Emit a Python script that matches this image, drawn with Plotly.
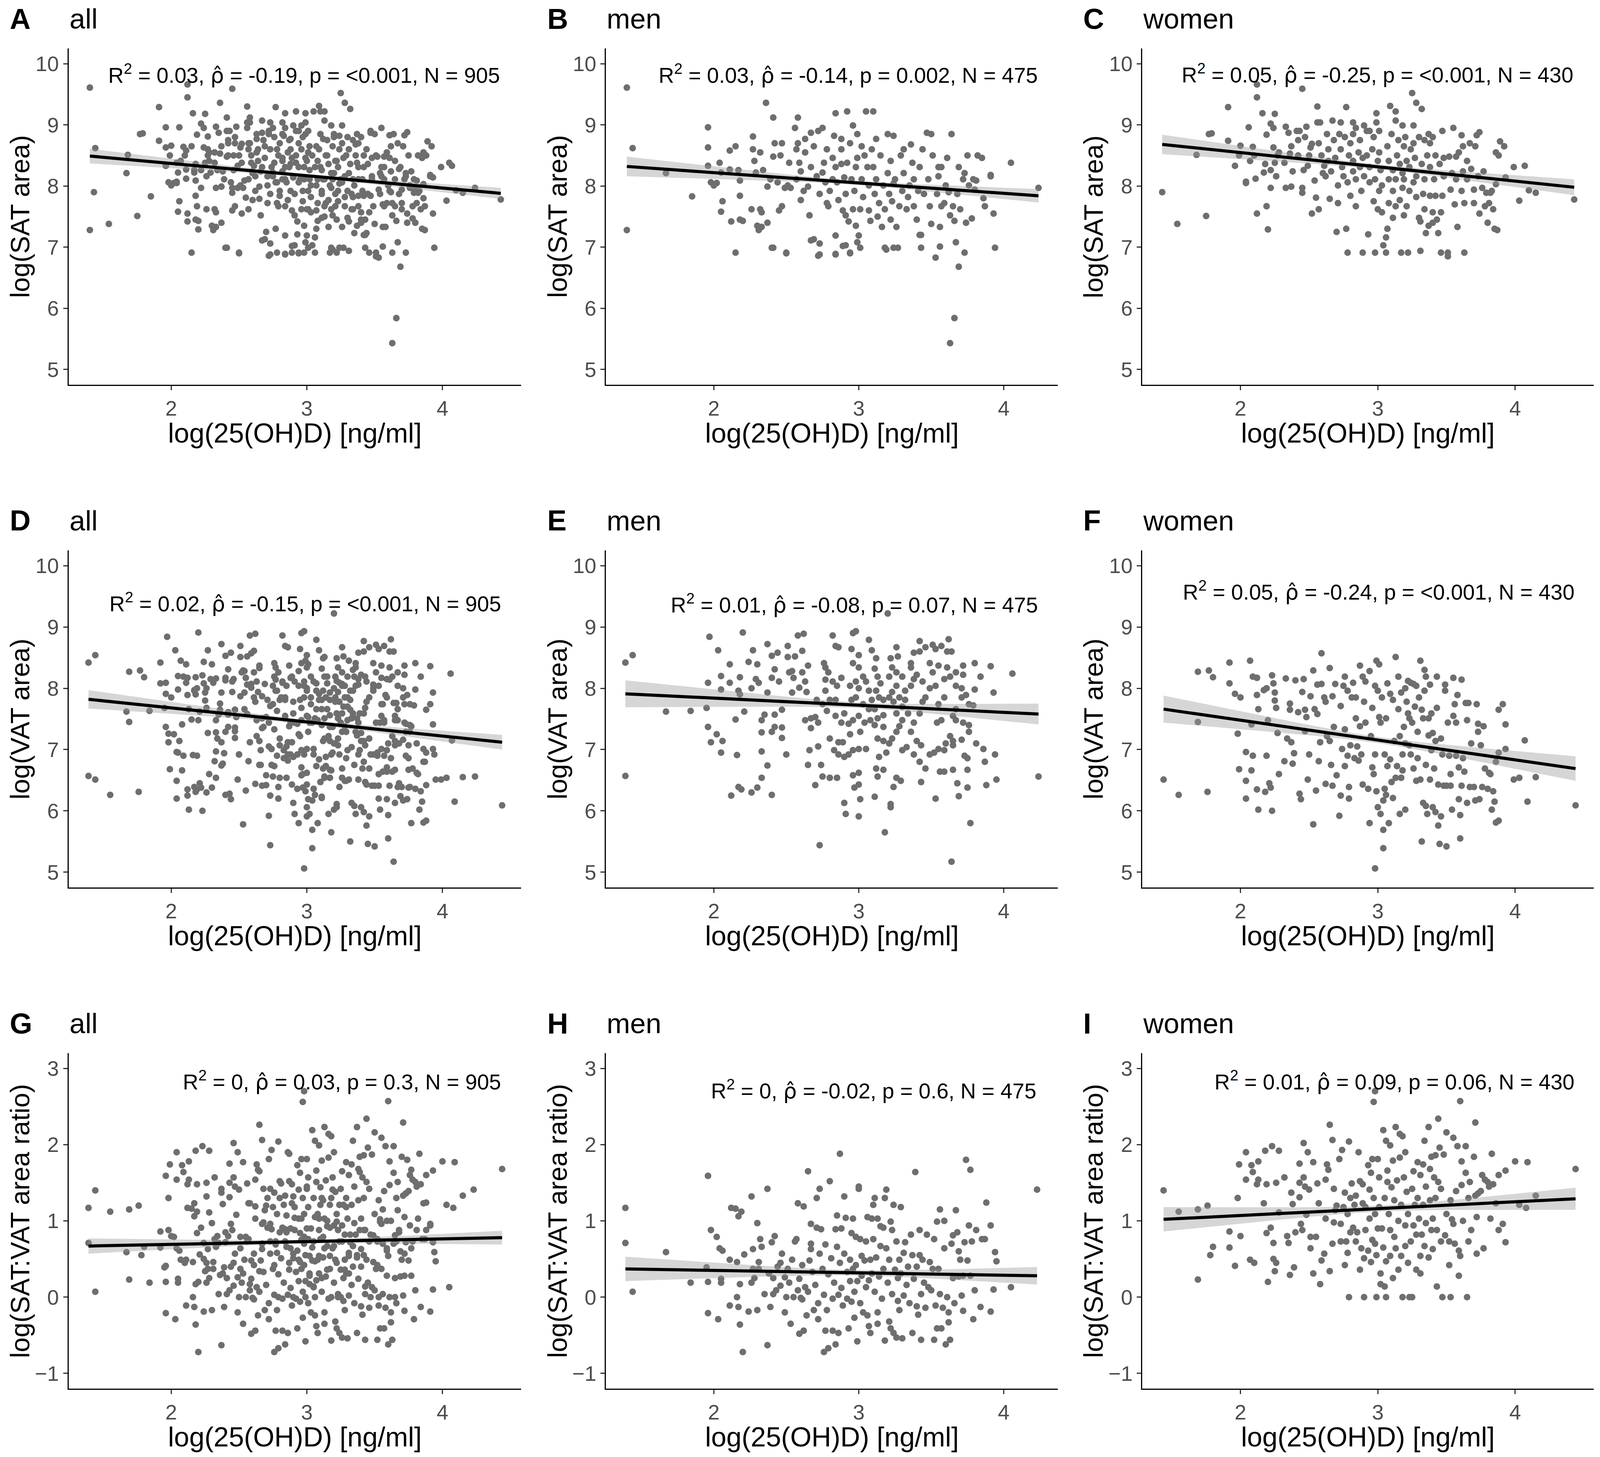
import numpy as np
import plotly.graph_objects as go

# The reference is 4317x3730; the page is photographed in a viewport that is
# 4096 px wide, with the default 8 px body margin round the figure.
REF_W, REF_H = 4317, 3730
VIEW_W, VIEW_H = 4096, 3730
PAD = 8
W, H = VIEW_W - 2 * PAD, VIEW_H - 2 * PAD
FONT = "Liberation Sans"
POINT_COLOR = "#6E6E6E"

# ---- data: (log 25(OH)D, value) ----
MEN_SAT = [
    (1.40, 9.61), (1.40, 7.28), (1.44, 8.62), (1.67, 8.21), (1.85, 7.83), (1.96, 8.96), (1.96, 8.63), (1.96, 8.33),
    (1.98, 8.06), (2.00, 8.01), (2.02, 8.05), (2.04, 8.38), (2.05, 8.22), (2.05, 7.58), (2.06, 7.75), (2.11, 8.58),
    (2.11, 8.27), (2.12, 7.42), (2.15, 8.65), (2.15, 6.91), (2.17, 8.26), (2.18, 8.09), (2.18, 7.84), (2.18, 7.45),
    (2.20, 7.43), (2.26, 7.62), (2.27, 8.81), (2.27, 8.60), (2.28, 8.41), (2.29, 8.22), (2.30, 7.35), (2.31, 7.28),
    (2.32, 8.55), (2.32, 7.62), (2.33, 7.57), (2.33, 7.33), (2.34, 8.26), (2.36, 9.36), (2.37, 7.99), (2.37, 7.40),
    (2.39, 8.11), (2.40, 6.99), (2.41, 9.12), (2.41, 8.48), (2.42, 8.70), (2.44, 8.06), (2.45, 7.60), (2.46, 8.50),
    (2.47, 8.70), (2.47, 7.67), (2.49, 7.97), (2.50, 6.91), (2.51, 8.01), (2.52, 8.38), (2.53, 7.97), (2.56, 8.95),
    (2.57, 8.60), (2.57, 8.11), (2.58, 8.70), (2.58, 9.12), (2.59, 8.38), (2.60, 7.77), (2.60, 8.24), (2.62, 7.92),
    (2.63, 8.77), (2.63, 8.55), (2.65, 7.99), (2.66, 7.52), (2.67, 8.31), (2.67, 8.87), (2.69, 8.65), (2.69, 7.13),
    (2.71, 8.16), (2.72, 8.90), (2.72, 6.86), (2.73, 7.06), (2.73, 7.87), (2.75, 8.95), (2.75, 8.22), (2.76, 8.38),
    (2.77, 8.06), (2.78, 8.60), (2.78, 7.72), (2.79, 7.67), (2.80, 7.92), (2.82, 8.11), (2.82, 8.46), (2.83, 8.82),
    (2.84, 9.19), (2.84, 8.31), (2.84, 7.19), (2.84, 6.89), (2.85, 8.06), (2.86, 7.77), (2.88, 8.60), (2.88, 8.77),
    (2.88, 8.36), (2.89, 7.60), (2.90, 8.14), (2.91, 7.52), (2.91, 7.87), (2.91, 7.03), (2.92, 9.22), (2.92, 8.38),
    (2.93, 7.42), (2.94, 6.91), (2.94, 8.70), (2.95, 8.11), (2.96, 7.62), (2.96, 8.99), (2.97, 7.92), (2.98, 8.31),
    (2.98, 7.35), (2.99, 7.08), (2.99, 8.46), (2.99, 8.85), (3.00, 7.19), (3.01, 7.62), (3.01, 6.99), (3.02, 8.11),
    (3.02, 8.65), (3.03, 7.82), (3.04, 8.50), (3.05, 9.22), (3.06, 8.31), (3.07, 8.01), (3.07, 7.60), (3.08, 7.43),
    (3.09, 8.60), (3.10, 9.22), (3.10, 8.31), (3.11, 7.87), (3.12, 8.77), (3.12, 8.11), (3.13, 7.50), (3.14, 7.72),
    (3.15, 8.50), (3.16, 7.33), (3.17, 8.01), (3.18, 7.62), (3.18, 6.99), (3.20, 8.85), (3.20, 8.21), (3.21, 7.87),
    (3.22, 8.41), (3.22, 7.45), (3.23, 7.75), (3.24, 8.82), (3.24, 8.04), (3.25, 8.11), (3.26, 7.33), (3.27, 6.99),
    (3.28, 7.67), (3.29, 8.50), (3.30, 7.92), (3.31, 8.60), (3.31, 8.21), (3.33, 7.62), (3.34, 7.82), (3.35, 8.01),
    (3.36, 8.68), (3.37, 8.38), (3.38, 7.67), (3.38, 8.11), (3.40, 7.45), (3.41, 7.92), (3.42, 8.31), (3.43, 7.20),
    (3.43, 6.99), (3.44, 8.60), (3.45, 7.87), (3.47, 8.87), (3.48, 8.11), (3.49, 7.67), (3.50, 8.85), (3.50, 7.38),
    (3.51, 8.50), (3.53, 6.83), (3.54, 7.87), (3.55, 8.31), (3.55, 8.16), (3.56, 7.33), (3.57, 8.31), (3.57, 7.67),
    (3.59, 7.72), (3.60, 8.01), (3.61, 8.46), (3.62, 7.90), (3.63, 7.52), (3.64, 8.85), (3.65, 7.67), (3.66, 7.43),
    (3.67, 7.08), (3.68, 7.87), (3.69, 6.68), (3.69, 8.31), (3.70, 7.62), (3.72, 8.11), (3.73, 8.21), (3.74, 7.40),
    (3.75, 8.50), (3.76, 8.01), (3.78, 7.47), (3.79, 8.11), (3.80, 7.94), (3.81, 8.09), (3.82, 8.50), (3.85, 8.46),
    (3.86, 7.80), (3.87, 7.67), (3.91, 8.16), (3.91, 8.18), (3.93, 7.55), (3.94, 6.99), (4.05, 8.38), (4.24, 7.97),
    (3.66, 5.84), (3.63, 5.43), (3.56, 7.01), (3.73, 6.91), (3.42, 7.20), (3.24, 6.99), (3.19, 6.96), (2.89, 7.02),
    (2.94, 6.90), (2.84, 6.88), (2.73, 6.88), (2.67, 7.11), (2.41, 6.99), (2.50, 6.90),
]

WOMEN_SAT = [
    (1.43, 7.90), (1.54, 7.38), (1.75, 7.51), (1.68, 8.51), (1.77, 8.85), (1.79, 8.86), (1.91, 8.74), (1.91, 9.29),
    (1.96, 8.33), (1.99, 8.50), (2.00, 8.66), (2.04, 8.07), (2.04, 8.05), (2.06, 8.96), (2.07, 8.41), (2.09, 8.64),
    (2.10, 8.50), (2.11, 8.12), (2.12, 9.66), (2.12, 9.45), (2.12, 7.55), (2.16, 9.19), (2.17, 8.22), (2.18, 8.36),
    (2.19, 8.84), (2.19, 7.67), (2.20, 7.29), (2.22, 9.02), (2.22, 7.97), (2.22, 8.26), (2.24, 8.95), (2.24, 8.63),
    (2.25, 9.18), (2.25, 8.38), (2.26, 8.16), (2.27, 8.50), (2.28, 8.55), (2.32, 8.38), (2.33, 8.97), (2.33, 7.97),
    (2.35, 8.87), (2.36, 8.53), (2.37, 7.99), (2.37, 8.65), (2.38, 8.24), (2.41, 8.90), (2.42, 8.75), (2.42, 8.50),
    (2.43, 8.90), (2.45, 7.97), (2.45, 7.89), (2.45, 9.59), (2.46, 8.26), (2.47, 8.80), (2.48, 8.97), (2.49, 8.33),
    (2.50, 8.50), (2.51, 8.63), (2.52, 7.55), (2.52, 8.69), (2.54, 8.09), (2.55, 7.81), (2.56, 9.04), (2.56, 9.30),
    (2.57, 7.62), (2.57, 8.70), (2.58, 9.04), (2.59, 8.50), (2.60, 8.21), (2.61, 8.33), (2.62, 8.16), (2.63, 8.85),
    (2.64, 8.60), (2.64, 8.41), (2.65, 7.79), (2.66, 8.24), (2.67, 9.07), (2.68, 8.75), (2.69, 8.46), (2.70, 7.25),
    (2.71, 8.01), (2.71, 7.72), (2.72, 8.85), (2.73, 9.04), (2.73, 8.60), (2.74, 8.31), (2.75, 8.16), (2.76, 8.80),
    (2.78, 6.91), (2.77, 7.30), (2.77, 9.29), (2.79, 8.50), (2.78, 8.06), (2.80, 8.70), (2.80, 7.84), (2.82, 9.04),
    (2.82, 8.41), (2.82, 8.24), (2.82, 8.85), (2.84, 7.67), (2.84, 8.11), (2.84, 8.95), (2.86, 8.55), (2.87, 8.75),
    (2.87, 8.31), (2.88, 7.92), (2.89, 6.91), (2.89, 8.46), (2.90, 8.99), (2.90, 8.16), (2.92, 8.90), (2.92, 8.50),
    (2.93, 7.21), (2.94, 8.06), (2.94, 8.90), (2.94, 8.31), (2.96, 8.60), (2.97, 8.80), (2.97, 7.75), (2.98, 6.91),
    (2.98, 8.11), (2.99, 9.04), (2.99, 9.19), (3.00, 8.41), (3.00, 7.62), (3.01, 8.55), (3.01, 7.92), (3.01, 8.90),
    (3.02, 8.26), (3.03, 7.57), (3.03, 8.01), (3.04, 7.03), (3.06, 6.91), (3.06, 7.16), (3.07, 7.30), (3.07, 8.65),
    (3.08, 7.72), (3.08, 8.41), (3.09, 9.31), (3.08, 8.11), (3.10, 8.85), (3.11, 7.48), (3.11, 7.92), (3.11, 8.26),
    (3.13, 9.22), (3.13, 7.67), (3.14, 8.50), (3.13, 9.07), (3.13, 8.11), (3.15, 8.75), (3.16, 7.77), (3.16, 8.36),
    (3.17, 6.91), (3.18, 7.97), (3.18, 8.99), (3.19, 8.65), (3.19, 7.52), (3.18, 8.21), (3.19, 8.11), (3.20, 8.80),
    (3.21, 8.41), (3.21, 7.67), (3.22, 6.91), (3.23, 7.92), (3.24, 8.60), (3.23, 8.31), (3.25, 9.52), (3.26, 8.06),
    (3.26, 8.99), (3.26, 8.70), (3.28, 7.82), (3.28, 9.36), (3.27, 8.46), (3.28, 8.16), (3.30, 7.48), (3.30, 8.80),
    (3.31, 6.94), (3.31, 7.42), (3.32, 9.26), (3.32, 8.36), (3.33, 7.87), (3.34, 7.62), (3.34, 8.75), (3.35, 7.23),
    (3.34, 8.11), (3.36, 8.50), (3.37, 8.85), (3.37, 7.35), (3.38, 7.84), (3.38, 8.31), (3.38, 8.70), (3.40, 7.40),
    (3.40, 7.57), (3.41, 8.11), (3.40, 8.80), (3.42, 8.50), (3.42, 7.84), (3.43, 7.45), (3.44, 7.23), (3.45, 8.36),
    (3.46, 6.91), (3.46, 7.57), (3.47, 7.84), (3.47, 8.90), (3.48, 8.46), (3.48, 8.16), (3.51, 6.85), (3.51, 6.91),
    (3.52, 8.48), (3.53, 7.94), (3.55, 8.95), (3.54, 8.21), (3.56, 7.70), (3.57, 8.48), (3.57, 8.11), (3.58, 7.33),
    (3.59, 8.55), (3.61, 7.92), (3.61, 8.83), (3.62, 8.65), (3.62, 8.24), (3.63, 6.91), (3.63, 7.72), (3.65, 8.41),
    (3.65, 8.11), (3.67, 8.70), (3.68, 8.28), (3.70, 7.72), (3.70, 7.94), (3.71, 8.65), (3.72, 8.83), (3.73, 8.16),
    (3.74, 7.55), (3.74, 8.88), (3.76, 7.97), (3.77, 8.24), (3.78, 7.67), (3.79, 7.89), (3.80, 7.40), (3.81, 7.72),
    (3.82, 7.89), (3.84, 7.62), (3.85, 7.30), (3.86, 8.55), (3.87, 7.28), (3.88, 8.50), (3.89, 8.73), (3.92, 8.65),
    (3.93, 8.14), (3.99, 8.31), (4.03, 7.76), (4.07, 8.33), (4.10, 7.93), (4.15, 7.89), (4.43, 7.78), (3.86, 8.03),
    (3.83, 7.92),
]

MEN_VAT = [
    (1.39, 8.42), (1.44, 8.54), (1.39, 6.57), (1.67, 7.62), (1.84, 7.63), (1.95, 7.68), (1.96, 8.09), (1.97, 8.84),
    (2.03, 8.62), (2.05, 8.20), (2.05, 7.98), (1.96, 7.37), (1.98, 7.12), (2.02, 7.25), (2.06, 7.14), (2.05, 6.95),
    (2.11, 8.39), (2.11, 8.09), (2.16, 6.91), (2.15, 7.49), (2.18, 8.18), (2.17, 7.96), (2.18, 7.90), (2.20, 8.91),
    (2.21, 7.62), (2.12, 6.25), (2.17, 6.39), (2.19, 6.35), (2.26, 6.30), (2.30, 6.38), (2.33, 6.54), (2.37, 6.74),
    (2.40, 6.26), (2.33, 6.97), (2.33, 7.28), (2.33, 7.48), (2.35, 7.57), (2.37, 7.93), (2.24, 8.43), (2.27, 8.62),
    (2.30, 8.39), (2.29, 8.15), (2.31, 8.09), (2.26, 8.00), (2.37, 8.72), (2.42, 8.31), (2.40, 8.53), (2.40, 8.17),
    (2.40, 7.29), (2.42, 7.37), (2.42, 7.57), (2.44, 8.58), (2.45, 8.11), (2.47, 7.65), (2.47, 7.36), (2.47, 7.19),
    (2.50, 6.92), (2.51, 8.69), (2.51, 8.51), (2.52, 8.26), (2.54, 8.28), (2.55, 8.17), (2.54, 7.93), (2.56, 8.52),
    (2.58, 8.86), (2.61, 8.61), (2.62, 8.89), (2.59, 8.01), (2.61, 8.26), (2.64, 7.94), (2.63, 8.11), (2.65, 8.37),
    (2.63, 7.48), (2.67, 7.51), (2.67, 7.35), (2.70, 7.53), (2.71, 7.81), (2.72, 7.44), (2.66, 6.99), (2.65, 6.75),
    (2.72, 7.05), (2.74, 6.75), (2.70, 6.42), (2.75, 6.56), (2.80, 6.54), (2.85, 6.54), (2.73, 5.44), (2.82, 8.86),
    (2.84, 8.69), (2.86, 8.67), (2.76, 8.41), (2.77, 8.34), (2.79, 8.26), (2.77, 8.14), (2.82, 8.11), (2.85, 8.04),
    (2.88, 8.17), (2.77, 7.96), (2.80, 7.81), (2.84, 7.81), (2.75, 7.74), (2.78, 7.63), (2.84, 7.55), (2.88, 7.44),
    (2.90, 7.59), (2.80, 7.18), (2.86, 7.12), (2.89, 7.12), (2.83, 6.99), (2.86, 6.92), (2.90, 6.88), (2.93, 6.92),
    (2.96, 6.99), (3.00, 7.01), (3.05, 7.01), (2.95, 8.64), (2.96, 8.90), (2.98, 8.93), (3.00, 8.54), (2.96, 8.41),
    (3.00, 8.34), (3.03, 8.19), (2.98, 8.11), (2.94, 8.04), (3.00, 8.00), (3.05, 8.11), (3.07, 7.96), (2.98, 7.85),
    (2.95, 7.81), (3.03, 7.74), (3.07, 7.66), (3.00, 7.55), (2.96, 7.48), (2.93, 7.42), (3.04, 7.44), (3.08, 7.48),
    (3.01, 7.29), (2.94, 7.25), (3.07, 8.79), (3.09, 8.62), (3.12, 8.49), (3.11, 8.32), (3.13, 8.19), (3.15, 8.08),
    (3.12, 7.96), (3.14, 7.85), (3.09, 7.81), (3.17, 7.81), (3.11, 7.66), (3.17, 7.56), (3.13, 7.51), (3.11, 7.40),
    (3.17, 7.37), (3.13, 7.18), (3.17, 7.14), (3.19, 6.95), (3.14, 6.88), (3.12, 6.69), (3.17, 6.67), (3.13, 6.56),
    (2.96, 6.58), (3.00, 6.62), (3.00, 6.43), (2.97, 6.38), (2.90, 6.13), (2.91, 5.95), (3.00, 5.91), (3.01, 6.19),
    (3.11, 6.23), (3.22, 6.11), (3.22, 6.06), (3.18, 5.65), (3.20, 9.22), (3.22, 8.49), (3.26, 8.67), (3.27, 8.52),
    (3.23, 8.34), (3.21, 8.19), (3.26, 8.26), (3.30, 8.19), (3.26, 8.04), (3.23, 7.94), (3.21, 7.85), (3.28, 7.85),
    (3.32, 7.81), (3.24, 7.78), (3.30, 7.70), (3.26, 7.59), (3.34, 7.59), (3.30, 7.48), (3.28, 7.38), (3.26, 7.29),
    (3.23, 7.18), (3.21, 7.10), (3.30, 6.99), (3.33, 7.04), (3.38, 6.92), (3.24, 6.39), (3.26, 6.54), (3.29, 6.49),
    (3.32, 7.96), (3.36, 8.04), (3.38, 8.15), (3.36, 8.34), (3.36, 8.41), (3.38, 8.58), (3.42, 8.77), (3.42, 8.60),
    (3.40, 8.22), (3.44, 8.11), (3.46, 8.67), (3.51, 8.71), (3.53, 8.64), (3.57, 8.69), (3.49, 8.41), (3.51, 8.26),
    (3.55, 8.37), (3.49, 8.00), (3.53, 8.04), (3.46, 7.85), (3.44, 7.78), (3.42, 7.59), (3.38, 7.44), (3.36, 7.29),
    (3.40, 7.14), (3.43, 7.07), (3.46, 6.69), (3.43, 6.47), (3.42, 6.80), (3.49, 6.92), (3.52, 6.95), (3.55, 7.01),
    (3.59, 6.99), (3.53, 6.20), (3.56, 6.64), (3.59, 6.64), (3.54, 7.44), (3.57, 7.48), (3.55, 7.74), (3.59, 7.85),
    (3.59, 8.15), (3.62, 8.80), (3.61, 8.60), (3.64, 8.60), (3.61, 8.34), (3.63, 8.19), (3.67, 8.26), (3.72, 8.22),
    (3.67, 8.04), (3.71, 8.00), (3.71, 7.85), (3.74, 7.89), (3.76, 7.74), (3.67, 7.66), (3.65, 7.55), (3.67, 7.48),
    (3.72, 7.44), (3.76, 7.40), (3.76, 7.29), (3.63, 7.22), (3.60, 7.10), (3.65, 7.14), (3.65, 7.07), (3.71, 7.16),
    (3.73, 6.90), (3.75, 6.86), (3.65, 6.67), (3.68, 6.45), (3.75, 6.38), (3.69, 6.24), (3.75, 6.67), (3.77, 5.80),
    (3.64, 5.17), (3.72, 8.37), (3.80, 8.41), (3.84, 8.19), (3.80, 7.98), (3.79, 7.72), (3.81, 7.10), (3.86, 7.01),
    (3.87, 6.80), (3.88, 6.42), (3.94, 6.92), (3.95, 6.51), (3.91, 8.36), (3.93, 7.93), (4.06, 8.24), (4.24, 6.56),
]

WOMEN_VAT = [
    (1.44, 6.51), (1.55, 6.26), (1.69, 8.27), (1.69, 7.45), (1.76, 6.31), (1.77, 8.29), (1.80, 8.18), (1.92, 8.42),
    (1.92, 8.08), (1.96, 7.91), (1.98, 7.26), (1.99, 6.68), (2.00, 7.85), (2.04, 6.96), (2.04, 6.49), (2.04, 6.20),
    (2.07, 8.45), (2.08, 7.41), (2.08, 6.66), (2.09, 6.90), (2.09, 8.19), (2.12, 8.17), (2.12, 7.89), (2.12, 6.35),
    (2.13, 6.02), (2.13, 7.66), (2.17, 7.97), (2.18, 6.31), (2.19, 6.90), (2.19, 8.00), (2.20, 7.48), (2.21, 6.45),
    (2.22, 6.38), (2.23, 8.21), (2.23, 6.00), (2.24, 8.08), (2.25, 7.93), (2.25, 7.80), (2.26, 7.68), (2.27, 7.27),
    (2.28, 6.60), (2.32, 6.81), (2.33, 8.16), (2.34, 7.18), (2.36, 7.75), (2.36, 7.65), (2.37, 7.12), (2.38, 6.77),
    (2.39, 6.94), (2.40, 8.13), (2.42, 7.61), (2.43, 6.28), (2.44, 6.19), (2.45, 7.94), (2.46, 8.15), (2.47, 7.65),
    (2.47, 7.30), (2.48, 7.53), (2.49, 6.51), (2.50, 6.92), (2.51, 7.87), (2.53, 8.29), (2.53, 5.78), (2.54, 7.66),
    (2.55, 6.33), (2.56, 7.58), (2.56, 8.06), (2.57, 6.81), (2.58, 7.12), (2.59, 8.57), (2.59, 8.07), (2.61, 7.85),
    (2.62, 7.78), (2.62, 6.44), (2.63, 7.22), (2.65, 8.33), (2.65, 7.14), (2.66, 6.75), (2.67, 7.87), (2.67, 6.41),
    (2.68, 7.37), (2.69, 8.07), (2.70, 6.58), (2.72, 5.92), (2.73, 6.25), (2.73, 7.71), (2.74, 7.01), (2.75, 8.04),
    (2.76, 6.73), (2.76, 8.19), (2.76, 7.33), (2.78, 7.96), (2.78, 6.90), (2.79, 6.39), (2.79, 6.20), (2.80, 7.07),
    (2.81, 7.85), (2.82, 8.09), (2.83, 6.86), (2.84, 7.51), (2.84, 7.85), (2.85, 7.05), (2.86, 6.82), (2.87, 7.38),
    (2.87, 8.37), (2.88, 6.92), (2.89, 8.19), (2.89, 6.43), (2.90, 7.78), (2.91, 8.11), (2.91, 7.44), (2.93, 6.36),
    (2.94, 8.28), (2.94, 5.80), (2.95, 7.22), (2.96, 6.71), (2.96, 7.68), (2.97, 6.60), (2.98, 8.04), (2.98, 6.92),
    (2.99, 8.45), (2.99, 6.32), (3.00, 6.06), (3.00, 7.96), (3.01, 7.53), (3.01, 8.39), (3.02, 7.44), (3.02, 5.95),
    (3.03, 7.85), (3.04, 6.17), (3.04, 5.69), (3.04, 5.39), (3.05, 6.92), (3.05, 6.36), (3.06, 7.51), (3.06, 6.26),
    (3.07, 8.08), (3.07, 6.73), (3.08, 5.80), (3.09, 7.91), (3.09, 6.84), (3.10, 6.47), (3.11, 7.81), (3.11, 6.21),
    (3.12, 7.14), (3.13, 8.51), (3.13, 6.54), (3.14, 6.73), (3.15, 7.66), (3.15, 8.19), (3.16, 5.95), (3.16, 7.22),
    (3.17, 7.93), (3.17, 6.54), (3.18, 6.92), (3.18, 6.66), (3.19, 7.37), (3.20, 8.00), (3.20, 6.02), (3.20, 7.10),
    (3.21, 7.78), (3.22, 8.12), (3.22, 7.59), (3.23, 7.07), (3.23, 7.51), (3.24, 8.09), (3.24, 6.92), (3.25, 7.44),
    (3.26, 8.07), (3.26, 6.69), (3.27, 7.70), (3.28, 6.49), (3.28, 8.04), (3.29, 7.29), (3.29, 6.86), (3.30, 7.85),
    (3.31, 8.45), (3.31, 6.51), (3.32, 7.65), (3.32, 5.50), (3.33, 6.13), (3.33, 7.51), (3.34, 7.96), (3.34, 8.30),
    (3.35, 6.75), (3.35, 6.08), (3.35, 8.19), (3.36, 5.95), (3.37, 7.23), (3.37, 7.51), (3.38, 6.51), (3.38, 8.06),
    (3.39, 6.99), (3.39, 7.59), (3.40, 6.06), (3.40, 7.27), (3.41, 6.69), (3.42, 7.14), (3.42, 5.98), (3.43, 8.19),
    (3.43, 7.68), (3.44, 6.43), (3.44, 5.76), (3.45, 5.46), (3.46, 7.18), (3.46, 5.91), (3.47, 6.92), (3.48, 6.41),
    (3.49, 7.96), (3.49, 8.06), (3.50, 5.42), (3.50, 6.41), (3.51, 7.44), (3.52, 6.90), (3.53, 6.60), (3.53, 6.41),
    (3.54, 6.02), (3.55, 8.17), (3.55, 7.55), (3.56, 7.74), (3.57, 6.90), (3.57, 7.44), (3.58, 7.89), (3.59, 6.71),
    (3.59, 6.19), (3.60, 5.55), (3.60, 5.93), (3.61, 8.14), (3.61, 6.41), (3.62, 6.86), (3.63, 6.64), (3.64, 7.76),
    (3.65, 6.13), (3.65, 7.48), (3.66, 7.76), (3.67, 6.39), (3.68, 7.10), (3.70, 6.39), (3.71, 6.17), (3.72, 7.74),
    (3.73, 7.42), (3.73, 7.29), (3.74, 6.19), (3.75, 7.07), (3.76, 6.39), (3.77, 7.38), (3.78, 6.69), (3.80, 6.36),
    (3.81, 6.62), (3.82, 6.60), (3.83, 6.02), (3.84, 6.32), (3.85, 6.15), (3.86, 5.81), (3.88, 5.84), (3.86, 6.80),
    (3.88, 6.95), (3.88, 7.65), (3.91, 7.74), (3.93, 7.01), (3.93, 7.41), (3.99, 6.51), (4.03, 6.54), (4.07, 7.15),
    (4.09, 6.15), (4.15, 6.55), (4.44, 6.09), (2.98, 5.06),
]

MEN_RATIO = [
    (1.39, 1.17), (1.39, 0.71), (1.44, 0.07), (1.67, 0.59), (1.84, 0.19), (1.95, 0.39), (1.96, 1.59), (1.96, 0.20),
    (1.96, -0.21), (1.98, 0.88), (2.02, 0.79), (2.03, -0.29), (2.04, 0.64), (2.06, 0.61), (2.05, 0.24), (2.05, 0.19),
    (2.11, 0.49), (2.11, -0.11), (2.12, 1.17), (2.15, 1.16), (2.16, 0.46), (2.16, 0.00), (2.17, -0.13), (2.17, 1.06),
    (2.18, 0.17), (2.18, -0.36), (2.19, 1.12), (2.20, -0.72), (2.21, 0.56), (2.24, -0.19), (2.26, 1.32), (2.26, 0.19),
    (2.27, 0.37), (2.27, 0.63), (2.28, 0.25), (2.30, 0.97), (2.30, -0.17), (2.31, 0.46), (2.31, 0.37), (2.32, 0.76),
    (2.33, 0.66), (2.35, 0.04), (2.37, 1.42), (2.37, -0.63), (2.38, 0.31), (2.39, -0.13), (2.40, 0.72), (2.41, 0.25),
    (2.41, 0.04), (2.42, 0.80), (2.43, 0.09), (2.44, 0.40), (2.46, 0.15), (2.46, 0.45), (2.47, 0.57), (2.49, 0.26),
    (2.49, -0.20), (2.50, 0.00), (2.51, 0.37), (2.52, 0.19), (2.53, -0.35), (2.54, 0.49), (2.55, 0.00), (2.56, 0.73),
    (2.57, 0.76), (2.58, 1.23), (2.58, 0.09), (2.59, 0.24), (2.59, -0.48), (2.60, -0.01), (2.61, 0.42), (2.61, -0.03),
    (2.62, -0.44), (2.62, 1.19), (2.63, 0.13), (2.64, -0.24), (2.65, 1.65), (2.65, 0.07), (2.66, 0.48), (2.67, 0.96),
    (2.67, 0.70), (2.67, 0.63), (2.68, 0.33), (2.69, -0.17), (2.70, 0.16), (2.71, 0.91), (2.71, 1.30), (2.72, -0.08),
    (2.72, -0.29), (2.73, 1.42), (2.73, 0.57), (2.74, 0.89), (2.75, 0.37), (2.76, 0.03), (2.76, -0.72), (2.77, 0.69),
    (2.77, -0.44), (2.78, -0.17), (2.79, -0.67), (2.79, 0.30), (2.80, 1.52), (2.81, 0.51), (2.82, -0.44), (2.82, -0.02),
    (2.83, 0.19), (2.84, 0.89), (2.84, -0.62), (2.85, 0.66), (2.85, 1.07), (2.86, 0.03), (2.86, -0.47), (2.87, 0.45),
    (2.87, 1.88), (2.88, 0.90), (2.88, 0.12), (2.89, -0.11), (2.90, 1.32), (2.90, 0.57), (2.91, 1.04), (2.92, 0.33),
    (2.92, -0.02), (2.93, -0.41), (2.94, 0.49), (2.94, 0.21), (2.95, -0.06), (2.95, 0.84), (2.96, 0.37), (2.96, 1.03),
    (2.97, -0.27), (2.97, 0.07), (2.98, 0.42), (2.98, 0.79), (2.99, 0.21), (2.99, -0.58), (3.00, 1.45), (3.00, 1.42),
    (3.01, -0.08), (3.01, 0.76), (3.02, 0.28), (3.02, 0.54), (3.03, -0.20), (3.04, 0.48), (3.05, 0.73), (3.05, 0.13),
    (3.06, 1.05), (3.06, -0.24), (3.07, 0.22), (3.07, -0.38), (3.08, 0.49), (3.08, -0.47), (3.09, 1.03), (3.09, 0.31),
    (3.10, 0.76), (3.10, 1.21), (3.11, 0.07), (3.11, 1.30), (3.12, 0.52), (3.13, -0.20), (3.13, 1.03), (3.13, -0.35),
    (3.14, 0.27), (3.15, 0.93), (3.15, 0.67), (3.16, -0.02), (3.17, 0.91), (3.17, 0.37), (3.18, -0.57), (3.18, 1.30),
    (3.19, 1.41), (3.19, 0.64), (3.20, 0.19), (3.21, -0.32), (3.21, 0.49), (3.22, -0.41), (3.22, 0.99), (3.23, 0.04),
    (3.23, 0.88), (3.24, -0.47), (3.24, 1.21), (3.25, 0.36), (3.26, -0.53), (3.26, 0.73), (3.27, -0.05), (3.27, 0.25),
    (3.28, 0.49), (3.28, -0.17), (3.29, 1.18), (3.29, 0.31), (3.30, -0.54), (3.31, 0.58), (3.31, 0.02), (3.32, 0.72),
    (3.33, 0.16), (3.34, 0.40), (3.35, -0.08), (3.36, 0.82), (3.37, -0.47), (3.37, 0.55), (3.38, 0.24), (3.39, 1.64),
    (3.40, -0.12), (3.40, 0.40), (3.41, -0.23), (3.42, 0.88), (3.42, 0.55), (3.43, -0.56), (3.43, 0.04), (3.44, 0.49),
    (3.45, 0.19), (3.46, -0.14), (3.47, 0.82), (3.48, 0.13), (3.49, 0.46), (3.50, 0.09), (3.51, 0.37), (3.52, -0.56),
    (3.52, 0.76), (3.53, -0.11), (3.54, 0.99), (3.54, -0.41), (3.55, 0.37), (3.56, 1.15), (3.56, 0.04), (3.57, -0.41),
    (3.58, -0.14), (3.59, 0.64), (3.59, 1.00), (3.60, -0.62), (3.61, 0.00), (3.62, -0.20), (3.62, -0.33), (3.63, -0.56),
    (3.64, 0.70), (3.65, 0.25), (3.65, 0.81), (3.66, -0.08), (3.67, 1.14), (3.68, 0.85), (3.69, 0.27), (3.69, 0.60),
    (3.70, 0.49), (3.71, 0.02), (3.72, 0.28), (3.72, -0.18), (3.73, 0.72), (3.74, 1.80), (3.75, 0.48), (3.76, 0.94),
    (3.77, 0.28), (3.77, 1.67), (3.78, 0.73), (3.79, -0.29), (3.80, 0.09), (3.81, 0.88), (3.84, -0.13), (3.85, 0.76),
    (3.87, 0.76), (3.88, 1.24), (3.91, 0.94), (3.91, -0.19), (3.93, 0.10), (3.94, 0.59), (3.95, 0.47), (4.05, 0.13),
    (4.23, 1.41),
]

WOMEN_RATIO = [
    (1.44, 1.40), (1.55, 1.12), (1.69, 1.15), (1.69, 0.23), (1.76, 1.20), (1.78, 0.55), (1.80, 0.66), (1.92, 0.86),
    (1.92, 0.65), (1.96, 0.41), (1.98, 1.30), (1.99, 1.74), (2.00, 0.80), (2.04, 1.90), (2.04, 1.54), (2.07, 0.49),
    (2.08, 1.73), (2.09, 1.64), (2.10, 0.45), (2.12, 1.48), (2.13, 1.78), (2.13, 1.54), (2.17, 1.23), (2.18, 1.92),
    (2.19, 1.48), (2.19, 0.84), (2.20, 0.20), (2.22, 0.91), (2.23, 1.98), (2.24, 0.50), (2.24, 0.71), (2.25, 0.34),
    (2.26, 1.50), (2.26, 0.45), (2.28, 1.11), (2.28, 1.92), (2.32, 1.57), (2.34, 0.80), (2.35, 0.71), (2.36, 0.29),
    (2.37, 1.37), (2.38, 1.22), (2.39, 0.39), (2.40, 0.85), (2.43, 1.31), (2.43, 1.50), (2.43, 1.75), (2.44, 0.96),
    (2.45, 0.88), (2.46, 2.02), (2.46, 1.57), (2.47, 1.45), (2.48, 1.08), (2.49, 1.90), (2.50, 1.41), (2.51, 0.79),
    (2.51, 0.64), (2.53, 1.77), (2.53, 0.31), (2.55, 0.79), (2.56, 1.49), (2.57, 1.23), (2.58, 0.17), (2.59, 0.48),
    (2.61, 0.57), (2.62, 1.03), (2.62, 1.54), (2.63, 1.74), (2.64, 1.67), (2.65, 0.34), (2.65, 2.26), (2.67, 2.06),
    (2.67, 0.70), (2.68, 1.42), (2.68, 0.98), (2.69, 1.14), (2.70, 1.20), (2.72, 1.81), (2.73, 0.73), (2.73, 0.96),
    (2.74, 1.93), (2.75, 1.18), (2.76, 1.37), (2.76, 0.42), (2.77, 0.73), (2.78, 0.58), (2.78, 1.09), (2.79, 0.00),
    (2.79, 2.04), (2.80, 1.30), (2.80, 0.85), (2.81, 1.49), (2.82, 0.91), (2.83, 1.21), (2.84, 0.73), (2.84, 1.33),
    (2.85, 0.85), (2.86, 1.90), (2.87, 1.52), (2.87, 0.36), (2.88, 0.64), (2.89, 1.23), (2.89, 1.48), (2.90, 0.00),
    (2.90, 0.51), (2.91, 0.88), (2.91, 1.18), (2.93, 0.61), (2.93, 1.73), (2.94, 1.41), (2.94, 1.03), (2.95, 0.46),
    (2.95, 1.63), (2.96, 0.75), (2.96, 1.81), (2.97, 2.56), (2.97, 1.30), (2.98, 1.09), (2.98, 2.70), (2.98, 0.70),
    (2.99, 0.00), (2.99, 0.55), (3.00, 1.81), (3.00, 0.90), (3.01, 1.57), (3.01, 1.18), (3.02, 0.17), (3.02, 0.31),
    (3.03, 0.90), (3.04, 0.65), (3.04, 2.19), (3.05, 1.30), (3.05, 0.14), (3.06, 2.05), (3.06, 0.00), (3.06, 0.47),
    (3.07, 1.51), (3.07, 1.66), (3.08, 1.09), (3.09, 0.88), (3.09, 0.54), (3.09, 1.99), (3.10, 1.44), (3.11, 0.25),
    (3.11, 1.79), (3.12, 0.79), (3.12, 1.27), (3.13, 2.23), (3.13, 0.64), (3.14, 1.53), (3.15, 1.00), (3.15, 0.36),
    (3.16, 1.83), (3.16, 2.14), (3.17, 1.21), (3.17, 0.54), (3.18, 2.11), (3.18, 0.00), (3.19, 1.57), (3.20, 0.94),
    (3.20, 1.90), (3.20, 0.67), (3.21, 1.38), (3.22, 0.45), (3.22, 1.09), (3.23, 0.00), (3.24, 0.73), (3.25, 0.00),
    (3.25, 1.42), (3.26, 0.94), (3.26, 1.65), (3.27, 1.21), (3.28, 0.36), (3.28, 0.82), (3.29, 1.30), (3.29, 1.77),
    (3.30, 1.03), (3.31, 0.31), (3.31, 0.54), (3.31, 1.60), (3.32, 0.82), (3.33, 1.74), (3.33, 1.21), (3.34, 0.67),
    (3.34, 2.05), (3.35, 1.45), (3.35, 0.97), (3.37, 2.23), (3.37, 0.52), (3.38, 1.27), (3.38, 1.68), (3.39, 0.88),
    (3.39, 1.84), (3.40, 0.63), (3.40, 1.03), (3.41, 1.57), (3.42, 1.86), (3.42, 1.30), (3.43, 0.14), (3.43, 0.88),
    (3.44, 1.51), (3.44, 2.34), (3.45, 1.96), (3.46, 0.73), (3.46, 1.42), (3.47, 0.00), (3.48, 1.87), (3.49, 0.81),
    (3.50, 2.16), (3.50, 1.09), (3.52, 0.73), (3.52, 0.42), (3.53, 0.00), (3.53, 1.27), (3.54, 1.02), (3.55, 2.09),
    (3.55, 0.96), (3.56, 0.70), (3.57, 1.39), (3.58, 1.98), (3.59, 0.61), (3.59, 0.28), (3.60, 2.57), (3.60, 0.54),
    (3.61, 1.78), (3.61, 1.47), (3.62, 1.00), (3.64, 1.63), (3.64, 1.98), (3.65, 0.00), (3.66, 1.30), (3.66, 0.73),
    (3.67, 1.51), (3.68, 0.88), (3.70, 1.84), (3.71, 1.33), (3.71, 2.29), (3.72, 0.57), (3.72, 1.05), (3.73, 1.36),
    (3.75, 1.39), (3.76, 1.60), (3.77, 0.64), (3.78, 1.54), (3.80, 1.51), (3.81, 1.45), (3.82, 1.03), (3.83, 1.88),
    (3.84, 1.48), (3.86, 1.23), (3.88, 1.60), (3.88, 0.88), (3.91, 0.96), (3.93, 1.66), (3.93, 0.72), (4.00, 1.78),
    (4.03, 1.21), (4.08, 1.17), (4.09, 1.77), (4.15, 1.33), (4.44, 1.68),
]

# regression line height at the left / right end of each panel, and CI half-width (left, narrowest, right)
FIT_Y = {
    "A": (8.49, 7.88), "B": (8.32, 7.84), "C": (8.68, 7.98),
    "D": (7.82, 7.12), "E": (7.91, 7.58), "F": (7.66, 6.69),
    "G": (0.67, 0.78), "H": (0.37, 0.28), "I": (1.02, 1.29),
}
BAND_HW = {
    "A": (0.12, 0.03, 0.09), "B": (0.16, 0.035, 0.11), "C": (0.16, 0.04, 0.13),
    "D": (0.15, 0.035, 0.12), "E": (0.22, 0.045, 0.17), "F": (0.22, 0.05, 0.20),
    "G": (0.10, 0.025, 0.09), "H": (0.16, 0.035, 0.115), "I": (0.16, 0.04, 0.145),
}
STATS = {
    "A": ("0.03", "-0.19", "<0.001", "905"), "B": ("0.03", "-0.14", "0.002", "475"),
    "C": ("0.05", "-0.25", "<0.001", "430"), "D": ("0.02", "-0.15", "<0.001", "905"),
    "E": ("0.01", "-0.08", "0.07", "475"), "F": ("0.05", "-0.24", "<0.001", "430"),
    "G": ("0", "0.03", "0.3", "905"), "H": ("0", "-0.02", "0.6", "475"),
    "I": ("0.01", "0.09", "0.06", "430"),
}
STAT_Y = {"A": 9.83, "B": 9.83, "C": 9.84, "D": 9.40, "E": 9.38, "F": 9.59, "G": 2.84, "H": 2.72, "I": 2.84}

GROUPS = ["all", "men", "women"]
ROW_LABELS = ["log(SAT area)", "log(VAT area)", "log(SAT:VAT area ratio)"]
X_LABEL = "log(25(OH)D) [ng/ml]"
X_RANGE = {"all": [1.243, 4.58], "men": [1.256, 4.373], "women": [1.285, 4.572]}
Y_RANGE = [[4.75, 10.25], [4.75, 10.25], [-1.2, 3.2]]
Y_TICKS = [[5, 6, 7, 8, 9, 10], [5, 6, 7, 8, 9, 10], [-1, 0, 1, 2, 3]]

# plot area boxes in reference pixels: (left, right) per column, (top, bottom) per row
COL_PX = [(185, 1406), (1635, 2854), (3082, 4300)]
ROW_PX = [(124, 985), (1409, 2272), (2696, 3555)]

DATA = [
    {"men": MEN_SAT, "women": WOMEN_SAT},
    {"men": MEN_VAT, "women": WOMEN_VAT},
    {"men": MEN_RATIO, "women": WOMEN_RATIO},
]


def fx(px):
    # reference x pixel -> paper fraction
    return (px * VIEW_W / REF_W - PAD) / W


def fy(px):
    # reference y pixel (from top) -> paper fraction (from bottom)
    return 1 - (px * VIEW_H / REF_H - PAD) / H


def band(xs, fit_y, hw):
    x0, x1 = min(xs), max(xs)
    xm = float(np.mean(xs))
    grid = np.linspace(x0, x1, 120)
    line = np.interp(grid, [x0, x1], fit_y)
    side = np.where(grid < xm, hw[0], hw[2])
    end = np.where(grid < xm, x0, x1)
    frac = ((grid - xm) / (end - xm)) ** 2
    half = np.sqrt(hw[1] ** 2 + (side ** 2 - hw[1] ** 2) * frac)
    return grid, line, half


fig = go.Figure()
letters = "ABCDEFGHI"
layout = {}
annotations = []
rho_hat = '<span style="font-family:DejaVu Sans">\u03c1\u0302</span>'

for r in range(3):
    for c, grp in enumerate(GROUPS):
        k = r * 3 + c
        letter = letters[k]
        ax = "" if k == 0 else str(k + 1)
        if grp == "all":
            pts = DATA[r]["men"] + DATA[r]["women"]
        else:
            pts = DATA[r][grp]
        xs = [p[0] for p in pts]
        ys = [p[1] for p in pts]

        fig.add_trace(go.Scatter(
            x=xs, y=ys, mode="markers", xaxis="x" + ax, yaxis="y" + ax,
            marker=dict(size=17, color=POINT_COLOR, line=dict(width=0)),
            hoverinfo="skip",
        ))
        grid, line, half = band(xs, FIT_Y[letter], BAND_HW[letter])
        fig.add_trace(go.Scatter(
            x=np.concatenate([grid, grid[::-1]]),
            y=np.concatenate([line + half, (line - half)[::-1]]),
            mode="lines", fill="toself", fillcolor="rgba(153,153,153,0.4)",
            line=dict(width=0), xaxis="x" + ax, yaxis="y" + ax, hoverinfo="skip",
        ))
        fig.add_trace(go.Scatter(
            x=[grid[0], grid[-1]], y=[line[0], line[-1]], mode="lines",
            line=dict(color="black", width=8), xaxis="x" + ax, yaxis="y" + ax,
            hoverinfo="skip",
        ))

        left, right = COL_PX[c]
        top, bottom = ROW_PX[r]
        axis_common = dict(
            showline=True, linecolor="black", linewidth=3, mirror=False,
            showgrid=False, zeroline=False, ticks="outside", ticklen=11,
            tickwidth=3, tickcolor="#333333",
            tickfont=dict(family=FONT, size=54, color="#4D4D4D"),
        )
        layout["xaxis" + ax] = dict(
            axis_common, domain=[fx(left), fx(right)], range=X_RANGE[grp],
            tickvals=[2, 3, 4], anchor="y" + ax,
        )
        layout["yaxis" + ax] = dict(
            axis_common, domain=[fy(bottom), fy(top)], range=Y_RANGE[r],
            tickvals=Y_TICKS[r], anchor="x" + ax,
        )

        r2, rho, p, n = STATS[letter]
        annotations.append(dict(
            x=max(xs), y=STAT_Y[letter], xref="x" + ax, yref="y" + ax,
            text=f"R<sup>2</sup> = {r2}, {rho_hat} = {rho}, p = {p}, N = {n}",
            showarrow=False, xanchor="right", yanchor="middle",
            font=dict(family=FONT, size=55, color="black"),
        ))
        # panel letter and title
        annotations.append(dict(
            x=fx(left - 161), y=fy(top - 76), xref="paper", yref="paper",
            text=f"<b>{letter}</b>", showarrow=False, xanchor="left", yanchor="middle",
            font=dict(family=FONT, size=74, color="black"),
        ))
        annotations.append(dict(
            x=fx(left), y=fy(top - 76), xref="paper", yref="paper",
            text=grp, showarrow=False, xanchor="left", yanchor="middle",
            font=dict(family=FONT, size=72, color="black"),
        ))
        # axis titles
        annotations.append(dict(
            x=fx((left + right) / 2), y=fy(bottom + 124), xref="paper", yref="paper",
            text=X_LABEL, showarrow=False, xanchor="center", yanchor="middle",
            font=dict(family=FONT, size=70, color="black"),
        ))
        annotations.append(dict(
            x=fx(left - 132), y=fy((top + bottom) / 2), xref="paper", yref="paper",
            text=ROW_LABELS[r], showarrow=False, textangle=-90, borderpad=0,
            xanchor="center", yanchor="middle",
            font=dict(family=FONT, size=68, color="black"),
        ))

fig.update_layout(
    width=W, height=H, margin=dict(l=0, r=0, t=0, b=0),
    paper_bgcolor="white", plot_bgcolor="white", showlegend=False,
    annotations=annotations, **layout,
)

fig.write_html("out.html")
